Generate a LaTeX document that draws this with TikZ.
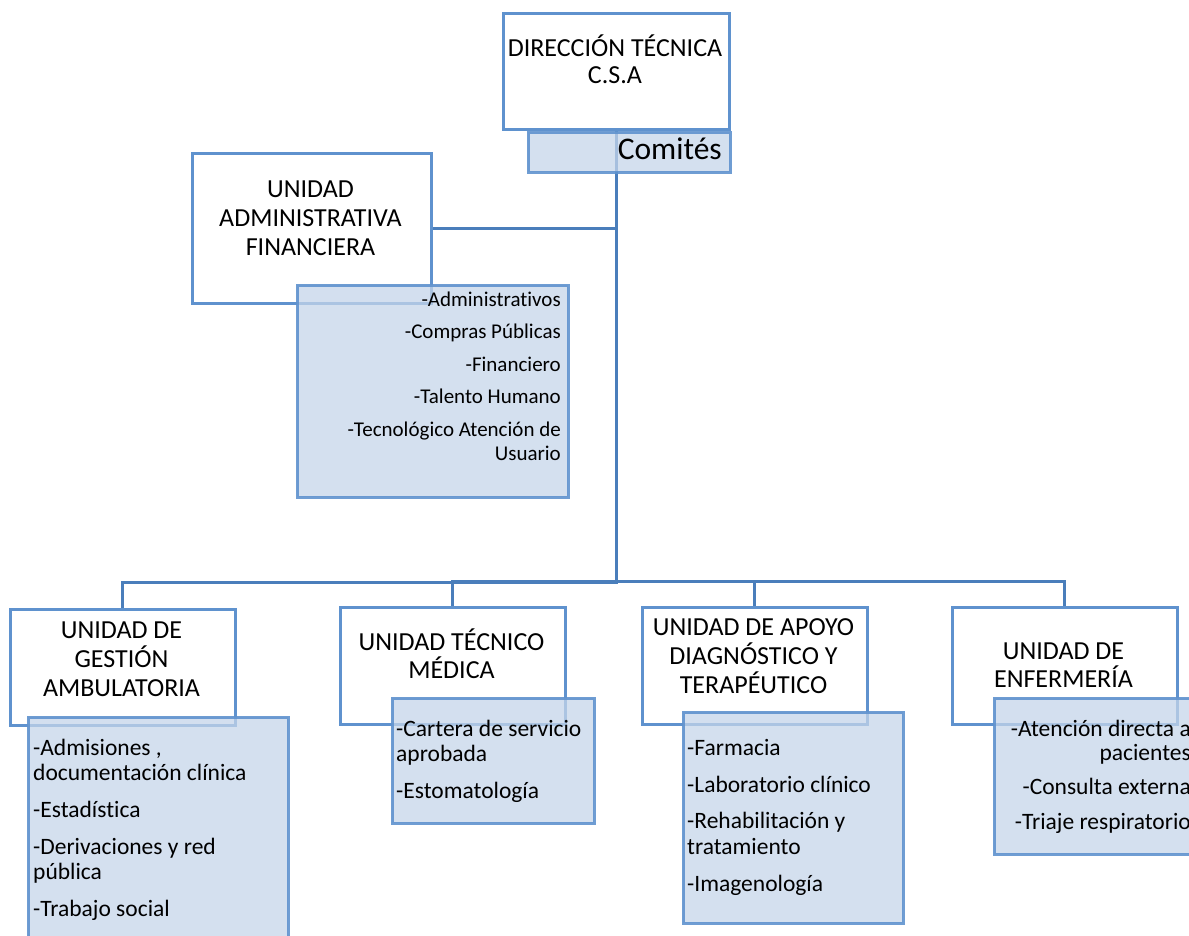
\documentclass[tikz,border=0pt]{standalone}
\usepackage{fontspec}
\setmainfont{Carlito}[Ligatures=NoCommon, RawFeature={-liga;-calt;-dlig}]
\usetikzlibrary{backgrounds}
\definecolor{bord}{RGB}{95,146,206}
\definecolor{conncol}{RGB}{74,126,187}
\definecolor{lfill}{RGB}{197,213,234}
\newcommand\linesC[2]{\vtop{\baselineskip=#1\lineskiplimit=-1000pt\lineskip=0pt\halign{\hfil##\hfil\cr#2}}}
\newcommand\linesL[2]{\vtop{\baselineskip=#1\lineskiplimit=-1000pt\lineskip=0pt\halign{##\hfil\cr#2}}}
\newcommand\linesR[2]{\vtop{\baselineskip=#1\lineskiplimit=-1000pt\lineskip=0pt\halign{\hfil##\cr#2}}}
\newcommand\gp[1]{\noalign{\vskip#1}}
\tikzset{
  headbox/.style={draw=bord, line width=2.6pt, fill=white, rectangle, inner sep=0pt, anchor=north west},
  listbox/.style={draw=bord, line width=2.6pt, draw opacity=0.9, fill=lfill, fill opacity=0.75, rectangle, inner sep=0pt, anchor=north west},
  conn/.style={draw=conncol, line width=2.8pt},
  headtext/.style={anchor=base, inner sep=0pt, font=\fontsize{26}{29}\selectfont},
  listtext/.style={inner sep=0pt, font=\fontsize{23.5}{26}\selectfont},
}
\begin{document}
\begin{tikzpicture}[x=1pt, y=-1pt]
\useasboundingbox (0,0) rectangle (1189,936);
% header boxes
\node[headbox, minimum width=226pt, minimum height=116pt] (dir) at (502,12) {};
\node[headbox, minimum width=239pt, minimum height=150pt] (adm) at (191,152) {};
\node[headbox, minimum width=225pt, minimum height=116pt] (ges) at (9,608) {};
\node[headbox, minimum width=225pt, minimum height=117pt] (tec) at (339,606) {};
\node[headbox, minimum width=225pt, minimum height=117pt] (apo) at (641,606) {};
\node[headbox, minimum width=225pt, minimum height=117pt] (enf) at (951,606) {};
% connectors
\begin{scope}[on background layer]
\draw[conn] (dir.south) -- ++(0,452) -| (ges.north);
\draw[conn] (dir.south) -- ++(0,451) -| (tec.north);
\draw[conn] (dir.south) -- ++(0,451) -| (apo.north);
\draw[conn] (dir.south) -- ++(0,451) -| (enf.north);
\draw[conn] (adm.east) -- (adm.east -| dir.south);
\end{scope}
% list boxes
\node[listbox, minimum width=202pt, minimum height=40pt] (com) at (527,131) {};
\node[listbox, minimum width=271pt, minimum height=212pt] (admL) at (296,284) {};
\node[listbox, minimum width=260pt, minimum height=240pt] (gesL) at (27,716) {};
\node[listbox, minimum width=202pt, minimum height=125pt] (tecL) at (391,697) {};
\node[listbox, minimum width=220pt, minimum height=211pt] (apoL) at (682,711) {};
\node[listbox, minimum width=220pt, minimum height=156pt] (enfL) at (993,697) {};
% texts
\node[headtext] (dirT) at (615,57) {\linesC{27pt}{DIRECCIÓN TÉCNICA\cr C.S.A\cr}};
\node[anchor=base east, inner sep=0pt, font=\fontsize{31.5}{36}\selectfont] (comT) at (722,160) {Comités};
\node[headtext] (admT) at (310.5,198) {\linesC{29pt}{UNIDAD\cr ADMINISTRATIVA\cr FINANCIERA\cr}};
\node[anchor=base east, inner sep=0pt, font=\fontsize{21}{24}\selectfont] (admLT) at (561,306)
  {\linesR{24pt}{-Administrativos\cr\gp{8.5pt}-Compras Públicas\cr\gp{8.5pt}-Financiero\cr\gp{8.5pt}-Talento Humano\cr\gp{8.5pt}-Tecnológico Atención de\cr Usuario\cr}};
\node[headtext] (gesT) at (121.5,638) {\linesC{29pt}{UNIDAD DE\cr GESTIÓN\cr AMBULATORIA\cr}};
\node[listtext, anchor=base west] (gesLT) at (33,755)
  {\linesL{25pt}{-Admisiones ,\cr documentación clínica\cr\gp{12pt}-Estadística\cr\gp{12pt}-Derivaciones y red\cr pública\cr\gp{12pt}-Trabajo social\cr}};
\node[headtext] (tecT) at (451.5,650) {\linesC{28pt}{UNIDAD TÉCNICO\cr MÉDICA\cr}};
\node[listtext, anchor=base west] (tecLT) at (396,736)
  {\linesL{25pt}{-Cartera de servicio\cr aprobada\cr\gp{12pt}-Estomatología\cr}};
\node[headtext] (apoT) at (753.5,635) {\linesC{29pt}{UNIDAD DE APOYO\cr DIAGNÓSTICO Y\cr TERAPÉUTICO\cr}};
\node[listtext, anchor=base west] (apoLT) at (687,755)
  {\linesL{26pt}{-Farmacia\cr\gp{11pt}-Laboratorio clínico\cr\gp{10pt}-Rehabilitación y\cr tratamiento\cr\gp{11pt}-Imagenología\cr}};
\node[headtext] (enfT) at (1063.5,659) {\linesC{28pt}{UNIDAD DE\cr ENFERMERÍA\cr}};
\node[listtext, anchor=base east] (enfLT) at (1191,736)
  {\linesR{24.5pt}{-Atención directa a\cr pacientes\cr\gp{9pt}-Consulta externa\cr\gp{11pt}-Triaje respiratorio\cr}};
\end{tikzpicture}
\end{document}
